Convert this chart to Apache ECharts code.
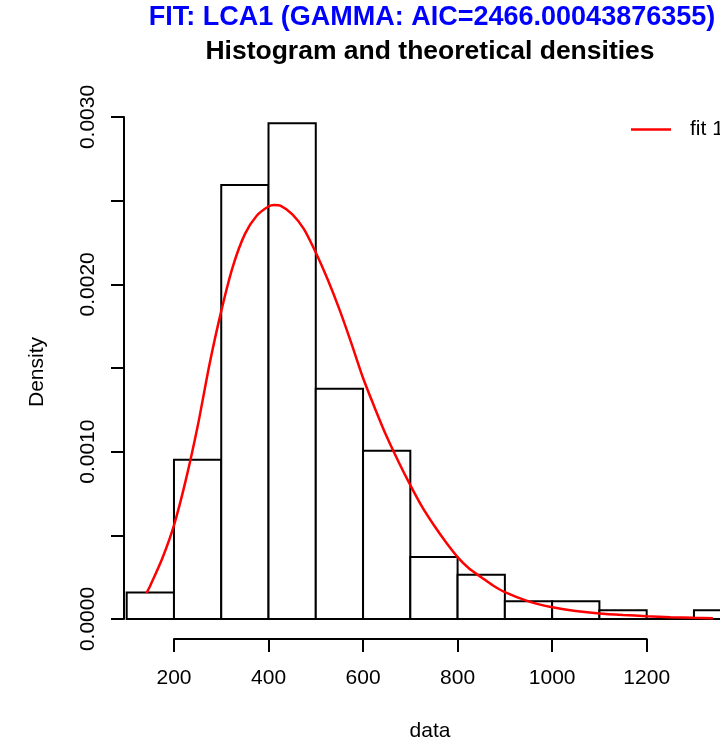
<!DOCTYPE html>
<html>
<head>
<meta charset="utf-8">
<script src="https://cdn.jsdelivr.net/npm/echarts@6/dist/echarts.min.js"></script>
<style>
  html, body { margin: 0; padding: 0; background: #fff; }
  #main { width: 720px; height: 753px; }
</style>
</head>
<body>
<div id="main"></div>
<script>
var chart = echarts.init(document.getElementById('main'))

// histogram bins (density)
var binStart = [100, 200, 300, 400, 500, 600, 700, 800, 900, 1000, 1100, 1200, 1300]
var binEnd = [200, 300, 400, 500, 600, 700, 800, 900, 1000, 1100, 1200, 1300, 1400]
var binDensity = [0.000159, 0.000952, 0.002593, 0.002963, 0.001376, 0.001005, 0.00037, 0.000265, 0.000106, 0.000106, 0.000053, 0, 0.000053]

// fitted gamma density curve
var curveX = [142, 150, 175, 200, 225, 250, 275, 300, 325, 350, 375, 400, 412, 425, 450, 475, 500, 525, 550, 575, 600, 625, 650, 675, 700, 725, 750, 775, 800, 825, 850, 875, 900, 950, 1000, 1050, 1100, 1150, 1200, 1250, 1300, 1340]
var curveY = [0.000155, 0.0002, 0.00036, 0.00056, 0.00083, 0.00115, 0.00152, 0.00184, 0.00211, 0.0023, 0.00241, 0.002465, 0.002474, 0.00247, 0.00242, 0.00233, 0.00219, 0.00203, 0.00185, 0.00165, 0.00144, 0.00126, 0.00109, 0.00094, 0.0008, 0.00067, 0.00056, 0.00046, 0.00037, 0.0003, 0.00025, 0.0002, 0.00016, 0.000105, 0.00007, 0.000048, 0.000033, 0.000024, 0.000017, 0.000011, 0.000007, 0.000005]

var xTicks = [200, 400, 600, 800, 1000, 1200]

var font = "'Liberation Sans', Arial, Helvetica, sans-serif"

var histData = []
for (var i = 0; i < binStart.length; i++) {
    histData.push([binStart[i], binEnd[i], binDensity[i]])
}
var curveData = []
for (var j = 0; j < curveX.length; j++) {
    curveData.push([curveX[j], curveY[j]])
}

var option = {
    backgroundColor: '#fff',
    animation: false,
    textStyle: { fontFamily: font },
    grid: [
        { left: 124, right: 0, top: 117, height: 502 },
        // R style x axis: offset below the plot, only spanning the ticks
        { left: 174, width: 472.7, top: 638, height: 1 }
    ],
    xAxis: [
        { gridIndex: 0, type: 'value', min: 94.3, max: 1355.1, show: false },
        {
            gridIndex: 1, type: 'value', min: xTicks[0], max: xTicks[xTicks.length - 1], interval: 200,
            axisLine: { show: true, lineStyle: { color: '#000', width: 2 } },
            axisTick: { show: true, length: 13, lineStyle: { color: '#000', width: 2 } },
            axisLabel: {
                color: '#000', fontSize: 21, margin: 29, fontFamily: font, showMinLabel: true, showMaxLabel: true,
                formatter: function (v) { return String(v) }
            },
            splitLine: { show: false }
        }
    ],
    yAxis: [
        {
            gridIndex: 0, type: 'value', min: 0, max: 0.003, interval: 0.0005,
            axisLine: { show: true, lineStyle: { color: '#000', width: 2 } },
            axisTick: { show: true, length: 13, lineStyle: { color: '#000', width: 2 } },
            axisLabel: {
                color: '#000', fontSize: 21, rotate: 90, margin: 25, fontFamily: font,
                formatter: function (v) {
                    var k = Math.round(v * 10000)
                    return k % 10 === 0 ? v.toFixed(4) : ''
                }
            },
            splitLine: { show: false }
        },
        { gridIndex: 1, type: 'value', min: 0, max: 1, show: false }
    ],
    legend: {
        data: ['fit 1'],
        left: 631, top: 119,
        padding: 0,
        icon: 'rect',
        itemWidth: 40, itemHeight: 2.5,
        textStyle: { color: '#000', fontSize: 21, fontFamily: font, padding: [0, 0, 0, 14] }
    },
    graphic: [
        {
            type: 'text', x: 432, y: 18,
            style: { text: 'FIT: LCA1 (GAMMA: AIC=2466.00043876355)', fill: '#0000ff', font: 'bold 27px ' + font, textAlign: 'center', textVerticalAlign: 'middle' }
        },
        {
            type: 'text', x: 430, y: 52,
            style: { text: 'Histogram and theoretical densities', fill: '#000', font: 'bold 26.5px ' + font, textAlign: 'center', textVerticalAlign: 'middle' }
        },
        {
            type: 'text', x: 37, y: 372, rotation: Math.PI / 2,
            style: { text: 'Density', fill: '#000', font: '21px ' + font, textAlign: 'center', textVerticalAlign: 'middle' }
        },
        {
            type: 'text', x: 430, y: 731,
            style: { text: 'data', fill: '#000', font: '21px ' + font, textAlign: 'center', textVerticalAlign: 'middle' }
        }
    ],
    series: [
        {
            name: 'hist',
            type: 'custom',
            xAxisIndex: 0, yAxisIndex: 0,
            data: histData,
            encode: { x: [0, 1], y: 2 },
            renderItem: function (params, api) {
                var p0 = api.coord([api.value(0), api.value(2)])
                var p1 = api.coord([api.value(1), 0])
                return {
                    type: 'rect',
                    shape: { x: p0[0], y: p0[1], width: p1[0] - p0[0], height: p1[1] - p0[1] },
                    style: { fill: '#fff', stroke: '#000', lineWidth: 2 }
                }
            }
        },
        {
            name: 'fit 1',
            type: 'line',
            xAxisIndex: 0, yAxisIndex: 0,
            data: curveData,
            smooth: 0.25,
            showSymbol: false,
            symbol: 'none',
            lineStyle: { color: '#ff0000', width: 2.5 },
            itemStyle: { color: '#ff0000' },
            z: 5
        }
    ]
}

chart.setOption(option)
</script>
</body>
</html>
